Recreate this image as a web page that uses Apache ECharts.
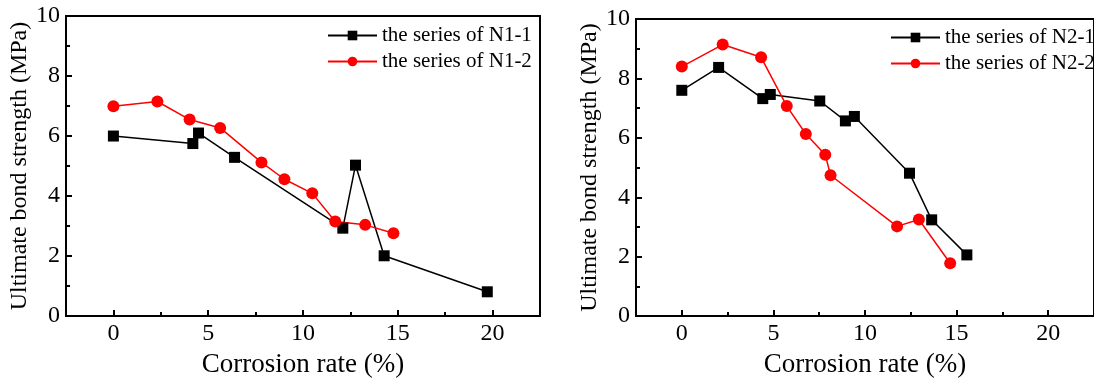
<!DOCTYPE html>
<html>
<head>
<meta charset="utf-8">
<script src="https://cdn.jsdelivr.net/npm/echarts@6/dist/echarts.min.js"></script>
<style>
html,body{margin:0;padding:0;background:#fff;}
#c{width:1094px;height:383px;}
</style>
</head>
<body>
<div id="c"></div>
<script>
// ---- data ----
var n11X = [0, 4.19, 4.49, 6.39, 12.1, 12.77, 14.28, 19.72];
var n11Y = [6.0, 5.75, 6.10, 5.29, 2.93, 5.03, 2.01, 0.81];
var n12X = [0, 2.32, 4.02, 5.63, 7.81, 9.02, 10.49, 11.7, 13.28, 14.77];
var n12Y = [6.99, 7.15, 6.55, 6.27, 5.12, 4.56, 4.09, 3.15, 3.04, 2.76];
var n21X = [0, 2.01, 4.42, 4.83, 7.53, 8.93, 9.42, 12.43, 13.64, 15.56];
var n21Y = [7.60, 8.37, 7.32, 7.46, 7.24, 6.57, 6.72, 4.81, 3.24, 2.06];
var n22X = [0, 2.23, 4.33, 5.73, 6.77, 7.83, 8.12, 11.75, 12.94, 14.65];
var n22Y = [8.40, 9.14, 8.71, 7.07, 6.13, 5.43, 4.74, 3.02, 3.25, 1.78];
var xMajorTicks = [0, 5, 10, 15, 20];
var xMinorTicks = [2.5, 7.5, 12.5, 17.5];
var names = ['the series of N1-1', 'the series of N1-2', 'the series of N2-1', 'the series of N2-2'];
var xTitle = 'Corrosion rate (%)';
var yTitle = 'Ultimate bond strength (MPa)';

function pairs(xs, ys){ return xs.map(function(x, i){ return [x, ys[i]]; }); }

var FONT = "'Liberation Serif', 'Times New Roman', serif";

function xMain(grid){
  return {
    type: 'value', gridIndex: grid, min: -2.5, max: 22.5, position: 'bottom',
    name: xTitle, nameLocation: 'middle', nameGap: 32,
    nameTextStyle: {fontFamily: FONT, fontSize: 27, color: '#000'},
    axisLine: {show: true, onZero: false, lineStyle: {color: '#000', width: 2}},
    axisTick: {show: true, inside: true, length: 6, lineStyle: {color: '#000', width: 2}, customValues: xMajorTicks},
    axisLabel: {show: true, margin: 6, fontFamily: FONT, fontSize: 24, color: '#000', customValues: xMajorTicks},
    splitLine: {show: false}
  };
}
function xMinor(grid){
  return {
    type: 'value', gridIndex: grid, min: -2.5, max: 22.5, position: 'bottom',
    axisLine: {show: false, onZero: false},
    axisTick: {show: true, inside: true, length: 4, lineStyle: {color: '#000', width: 2}, customValues: xMinorTicks},
    axisLabel: {show: false},
    splitLine: {show: false}
  };
}
function yAx(grid){
  return {
    type: 'value', gridIndex: grid, min: 0, max: 10, interval: 2, position: 'left',
    name: yTitle, nameLocation: 'middle', nameGap: 33, nameRotate: 90,
    nameTextStyle: {fontFamily: FONT, fontSize: 24, color: '#000'},
    axisLine: {show: true, onZero: false, lineStyle: {color: '#000', width: 2}},
    axisTick: {show: true, inside: true, length: 6, lineStyle: {color: '#000', width: 2}},
    minorTick: {show: true, splitNumber: 2, length: 4, lineStyle: {color: '#000', width: 2}},
    axisLabel: {show: true, margin: 6, fontFamily: FONT, fontSize: 24, color: '#000'},
    splitLine: {show: false}, minorSplitLine: {show: false}
  };
}
function ser(name, xi, yi, data, color, sym, size){
  return {
    name: name, type: 'line', xAxisIndex: xi, yAxisIndex: yi, data: data,
    symbol: sym, symbolSize: size, showSymbol: true,
    lineStyle: {color: color, width: 1.5},
    itemStyle: {color: color},
    emphasis: {disabled: true}
  };
}
function legend(list, left, top){
  return {
    data: list, left: left, top: top, orient: 'vertical', padding: 0,
    itemWidth: 49, itemHeight: 12, itemGap: 5,
    textStyle: {fontFamily: FONT, fontSize: 21, color: '#000', lineHeight: 21},
    selectedMode: false
  };
}

var chart = echarts.init(document.getElementById('c'), null, {renderer: 'canvas'});
chart.setOption({
  animation: false,
  backgroundColor: '#fff',
  grid: [
    {left: 66, top: 16, width: 474, height: 303, show: true, borderColor: '#000', borderWidth: 2, containLabel: false},
    {left: 636, top: 19, width: 463, height: 303, show: true, borderColor: '#000', borderWidth: 2, containLabel: false}
  ],
  xAxis: [xMain(0), xMinor(0), xMain(1), xMinor(1)],
  yAxis: [yAx(0), yAx(1)],
  legend: [legend([names[0], names[1]], 327, 25), legend([names[2], names[3]], 890, 27)],
  series: [
    ser(names[0], 0, 0, pairs(n11X, n11Y), '#000000', 'rect', 11),
    ser(names[1], 0, 0, pairs(n12X, n12Y), '#ff0000', 'circle', 12),
    ser(names[2], 2, 1, pairs(n21X, n21Y), '#000000', 'rect', 11),
    ser(names[3], 2, 1, pairs(n22X, n22Y), '#ff0000', 'circle', 12)
  ]
});
</script>
</body>
</html>
